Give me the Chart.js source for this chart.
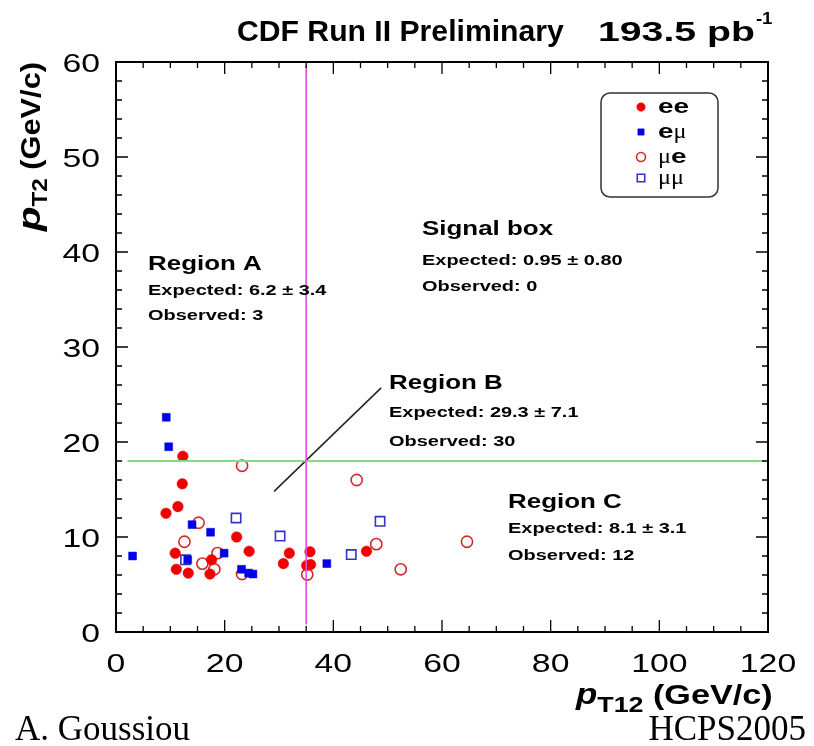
<!DOCTYPE html>
<html>
<head>
<meta charset="utf-8">
<script src="https://cdn.jsdelivr.net/npm/chart.js@4.4.1/dist/chart.umd.min.js"></script>
<style>
  html, body { margin: 0; padding: 0; background: #fff; }
  #wrap { position: relative; width: 814px; height: 746px; }
</style>
</head>
<body>
<div id="wrap"><canvas id="c" width="814" height="746"></canvas></div>
<script>
// pT12 (x) / pT2 (y) of the dilepton candidates
var eeX = [12.3, 12.2, 11.4, 9.2, 22.2, 10.9, 24.5, 31.9, 35.7, 17.6, 30.8, 35.1, 35.8, 11.1, 13.3, 17.3, 46.1];
var eeY = [18.5, 15.6, 13.2, 12.5, 10.0, 8.3, 8.5, 8.3, 8.45, 7.6, 7.2, 7.0, 7.1, 6.6, 6.2, 6.1, 8.5];
var emuX = [9.25, 9.7, 14.0, 17.4, 3.05, 19.9, 13.2, 23.1, 24.4, 25.2, 38.8];
var emuY = [22.6, 19.5, 11.3, 10.5, 8.0, 8.3, 7.6, 6.6, 6.2, 6.1, 7.2];
var mueX = [23.2, 15.2, 12.6, 18.7, 15.9, 18.1, 23.2, 44.3, 35.2, 47.9, 52.4, 64.6];
var mueY = [17.5, 11.5, 9.5, 8.3, 7.2, 6.6, 6.1, 16.0, 6.05, 9.25, 6.6, 9.5];
var mumuX = [22.1, 30.2, 12.8, 48.6, 43.3];
var mumuY = [12.0, 10.1, 7.6, 11.65, 8.15];

// cut lines and the Region B pointer (data units)
var cutX = 35, cutXRange = [0.8, 59.6];
var cutY = 18, cutYRange = [2.1, 119.3];
var pointerX = [29.1, 48.8];
var pointerY = [14.8, 25.7];

// axes
var xRange = [0, 120], xMajor = 20, xMinor = 5;
var yRange = [0, 60], yMajor = 10, yMinor = 2;

var SANS = '"Liberation Sans", Arial, Helvetica, sans-serif';
var SERIF = '"Liberation Serif", "Times New Roman", serif';
var SX = 1.33; // the original text is drawn wide

function pts(xs, ys) {
  return xs.map(function (x, i) { return { x: x, y: ys[i] }; });
}

var STYLE = {
  ee:   { pointStyle: 'circle', radius: 5.3, bg: '#f20000', border: '#f20000', bw: 0.5 },
  emu:  { pointStyle: 'rect', radius: 5.6, bg: '#0000e6', border: '#0000e6', bw: 0.5 },
  mue:  { pointStyle: 'circle', radius: 5.6, bg: 'rgba(0,0,0,0)', border: '#d22a2a', bw: 1.6 },
  mumu: { pointStyle: 'rect', radius: 6.6, bg: 'rgba(0,0,0,0)', border: '#3434c8', bw: 1.6 }
};

function pointSet(label, xs, ys, st) {
  return {
    label: label, data: pts(xs, ys), showLine: false,
    pointStyle: st.pointStyle, pointRadius: st.radius,
    pointBackgroundColor: st.bg, pointBorderColor: st.border, pointBorderWidth: st.bw
  };
}

function lineSet(data, color, width) {
  return {
    data: data, showLine: true, pointRadius: 0, borderColor: color,
    borderWidth: width, fill: false, tension: 0
  };
}

// stretched text helper
function txt(ctx, s, x, y, font, sx, align) {
  ctx.save();
  ctx.font = font;
  var w = ctx.measureText(s).width * sx;
  var x0 = align === 'right' ? x - w : (align === 'center' ? x - w / 2 : x);
  ctx.translate(x0, y);
  ctx.scale(sx, 1);
  ctx.textAlign = 'left';
  ctx.textBaseline = 'alphabetic';
  ctx.fillText(s, 0, 0);
  ctx.restore();
  return w;
}

function rich(ctx, segs, x, y) {
  segs.forEach(function (s) {
    x += txt(ctx, s[0], x, y + (s[3] || 0), s[1], s[2]);
  });
  return x;
}

var decor = {
  id: 'decor',
  afterDraw: function (chart) {
    var ctx = chart.ctx, a = chart.chartArea;
    var xs = chart.scales.x, ys = chart.scales.y;
    ctx.save();
    ctx.fillStyle = '#000';
    ctx.strokeStyle = '#000';

    // frame
    ctx.lineWidth = 2;
    ctx.strokeRect(a.left, a.top, a.right - a.left, a.bottom - a.top);

    // inward ticks on all four sides
    ctx.lineWidth = 1.3;
    ctx.beginPath();
    var v, p, len;
    for (v = xRange[0]; v <= xRange[1] + 1e-9; v += xMinor) {
      p = xs.getPixelForValue(v);
      len = (v % xMajor === 0) ? 12 : 6;
      ctx.moveTo(p, a.bottom); ctx.lineTo(p, a.bottom - len);
      ctx.moveTo(p, a.top); ctx.lineTo(p, a.top + len);
    }
    for (v = yRange[0]; v <= yRange[1] + 1e-9; v += yMinor) {
      p = ys.getPixelForValue(v);
      len = (v % yMajor === 0) ? 12 : 6;
      ctx.moveTo(a.left, p); ctx.lineTo(a.left + len, p);
      ctx.moveTo(a.right, p); ctx.lineTo(a.right - len, p);
    }
    ctx.stroke();

    // tick labels from the library's ticks
    var tickFont = '26px ' + SANS;
    xs.ticks.forEach(function (t) {
      txt(ctx, String(t.value), xs.getPixelForValue(t.value), 672, tickFont, 1.3, 'center');
    });
    ys.ticks.forEach(function (t) {
      txt(ctx, String(t.value), 100, ys.getPixelForValue(t.value) + 9.5, tickFont, 1.3, 'right');
    });

    // title
    txt(ctx, 'CDF Run II Preliminary', 237, 41, 'bold 29px ' + SANS, 1.04);
    var e = txt(ctx, '193.5 pb', 598, 41, 'bold 28px ' + SANS, 1.4);
    txt(ctx, '-1', 598 + e + 1, 24, 'bold 17px ' + SANS, 1.1);

    // x title
    rich(ctx, [
      ['p', 'italic bold 29px ' + SANS, 1.2, 0],
      ['T12', 'bold 22px ' + SANS, 1.22, 8],
      [' (GeV/c)', 'bold 28px ' + SANS, 1.22, 0]
    ], 576, 704);

    // y title (rotated)
    ctx.save();
    ctx.translate(40, 231);
    ctx.rotate(-Math.PI / 2);
    rich(ctx, [
      ['p', 'italic bold 32px ' + SANS, 1.25, 0],
      ['T2', 'bold 22px ' + SANS, 1.1, 7],
      [' (GeV/c)', 'bold 28px ' + SANS, 1.1, 0]
    ], 0, 0);
    ctx.restore();

    // region annotations
    var H = 'bold 19.5px ' + SANS, B = 'bold 15px ' + SANS;
    var notes = [
      [148, 270, 295, 320, 'Region A', 'Expected: 6.2 \u00b1 3.4', 'Observed: 3'],
      [422, 235, 265, 291, 'Signal box', 'Expected: 0.95 \u00b1 0.80', 'Observed: 0'],
      [389, 389, 417, 446, 'Region B', 'Expected: 29.3 \u00b1 7.1', 'Observed: 30'],
      [508, 508, 533, 560, 'Region C', 'Expected: 8.1 \u00b1 3.1', 'Observed: 12']
    ];
    notes.forEach(function (n) {
      txt(ctx, n[4], n[0], n[1], H, SX);
      txt(ctx, n[5], n[0], n[2], B, SX);
      txt(ctx, n[6], n[0], n[3], B, SX);
    });

    // legend
    ctx.lineWidth = 1.5;
    ctx.strokeStyle = '#333';
    ctx.beginPath();
    ctx.roundRect(601, 93, 117, 104, 9);
    ctx.stroke();
    var LB = 'bold 21px ' + SANS, LM = '22px ' + SERIF;
    var leg = [
      [STYLE.ee, 107, [['ee', LB, SX]]],
      [STYLE.emu, 132, [['e', LB, SX], ['\u03bc', LM, 1.1]]],
      [STYLE.mue, 157, [['\u03bc', LM, 1.1], ['e', LB, SX]]],
      [STYLE.mumu, 178, [['\u03bc\u03bc', LM, 1.1]]]
    ];
    leg.forEach(function (l) {
      var st = l[0];
      ctx.fillStyle = st.bg;
      ctx.strokeStyle = st.border;
      ctx.lineWidth = st.bw;
      Chart.helpers.drawPoint(ctx, { pointStyle: st.pointStyle, radius: st.radius * 0.8, rotation: 0, borderWidth: st.bw }, 641, l[1]);
      ctx.fillStyle = '#000';
      rich(ctx, l[2], 658, l[1] + 6);
    });

    // footer
    ctx.fillStyle = '#000';
    txt(ctx, 'A. Goussiou', 15, 740, '35px ' + SERIF, 1.0);
    txt(ctx, 'HCPS2005', 806, 740, '35px ' + SERIF, 1.0, 'right');
    ctx.restore();
  }
};

new Chart(document.getElementById('c'), {
  type: 'scatter',
  data: {
    datasets: [
      lineSet([{ x: cutX, y: cutXRange[0] }, { x: cutX, y: cutXRange[1] }], '#e24ce2', 1.6),
      lineSet([{ x: cutYRange[0], y: cutY }, { x: cutYRange[1], y: cutY }], '#80e080', 2),
      lineSet(pts(pointerX, pointerY), '#222', 1.5),
      pointSet('ee', eeX, eeY, STYLE.ee),
      pointSet('e\u03bc', emuX, emuY, STYLE.emu),
      pointSet('\u03bce', mueX, mueY, STYLE.mue),
      pointSet('\u03bc\u03bc', mumuX, mumuY, STYLE.mumu)
    ]
  },
  options: {
    responsive: false,
    animation: false,
    events: [],
    layout: { padding: { left: 0, top: 62, right: 46, bottom: 0 } },
    plugins: { legend: { display: false }, tooltip: { enabled: false }, title: { display: false } },
    scales: {
      x: {
        type: 'linear', min: xRange[0], max: xRange[1],
        ticks: { stepSize: xMajor, display: false },
        grid: { display: false, drawTicks: false },
        border: { display: false },
        afterFit: function (s) { s.height = 114; }
      },
      y: {
        type: 'linear', min: yRange[0], max: yRange[1],
        ticks: { stepSize: yMajor, display: false },
        grid: { display: false, drawTicks: false },
        border: { display: false },
        afterFit: function (s) { s.width = 116; }
      }
    }
  },
  plugins: [decor]
});
</script>
</body>
</html>
